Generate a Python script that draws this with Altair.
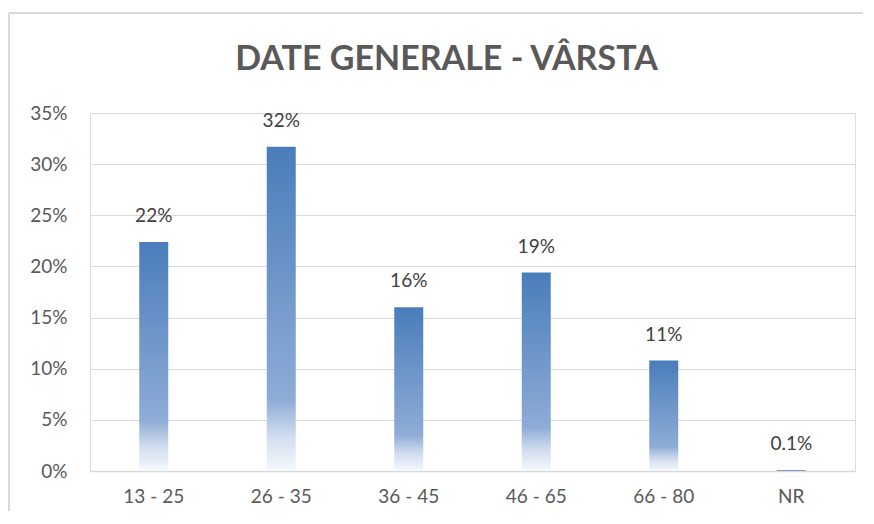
import altair as alt
import pandas as pd

categories = ["13 - 25", "26 - 35", "36 - 45", "46 - 65", "66 - 80", "NR"]
values = [0.224, 0.317, 0.160, 0.194, 0.108, 0.001]
labels = ["22%", "32%", "16%", "19%", "11%", "0.1%"]

df = pd.DataFrame({"cat": categories, "val": values, "lab": labels})

W, H = 765, 358
FONT = "Lato"

grad = alt.Gradient(
    gradient="linear",
    stops=[
        alt.GradientStop(color="#4a7dbb", offset=0),
        alt.GradientStop(color="#8eacd6", offset=0.78),
        alt.GradientStop(color="#cfdbee", offset=0.89),
        alt.GradientStop(color="#f7f9fd", offset=1),
    ],
    x1=0, x2=0, y1=0, y2=1,
)

x = alt.X("cat:N", sort=categories, title=None,
          scale=alt.Scale(paddingInner=0, paddingOuter=0),
          axis=alt.Axis(labelAngle=0, labelFont=FONT, labelFontSize=19,
                        labelColor="#595959", labelPadding=16, ticks=False,
                        domainColor="#d9d9d9", domainWidth=1.5, grid=False))
y = alt.Y("val:Q", title=None,
          scale=alt.Scale(domain=[0, 0.35], nice=False),
          axis=alt.Axis(format=".0%", values=[0, 0.05, 0.1, 0.15, 0.2, 0.25, 0.3, 0.35],
                        labelFont=FONT, labelFontSize=19, labelColor="#595959",
                        labelPadding=23, ticks=False, domain=False,
                        gridColor="#d9d9d9", gridWidth=1.2))

top_line = alt.Chart(df).mark_rule(stroke="#d9d9d9", strokeWidth=1.5).encode(
    x=alt.value(-81), x2=alt.value(800), y=alt.value(-100)
)
left_line = alt.Chart(df).mark_rule(stroke="#d9d9d9", strokeWidth=1.5).encode(
    x=alt.value(-81), y=alt.value(-100), y2=alt.value(420)
)

bars = alt.Chart(df).mark_bar(size=29, color=grad).encode(x=x, y=y)

text = alt.Chart(df).mark_text(baseline="bottom", dy=-16, font=FONT, fontSize=19,
                               color="#404040").encode(x=x, y=y, text="lab:N")

chart = alt.layer(top_line, left_line, bars, text).properties(
    width=W, height=H,
    title=alt.TitleParams("DATE GENERALE - VÂRSTA", font=FONT, fontSize=34,
                          fontWeight="bold", color="#595959", offset=-65,
                          anchor="middle", dx=-26),
    autosize=alt.AutoSizeParams(type="none"),
    padding={"left": 82, "top": 105, "right": 8, "bottom": 40},
).configure_view(stroke=None).configure(background="white")

chart.save("out.html", embed_options={"renderer": "svg", "actions": False})
